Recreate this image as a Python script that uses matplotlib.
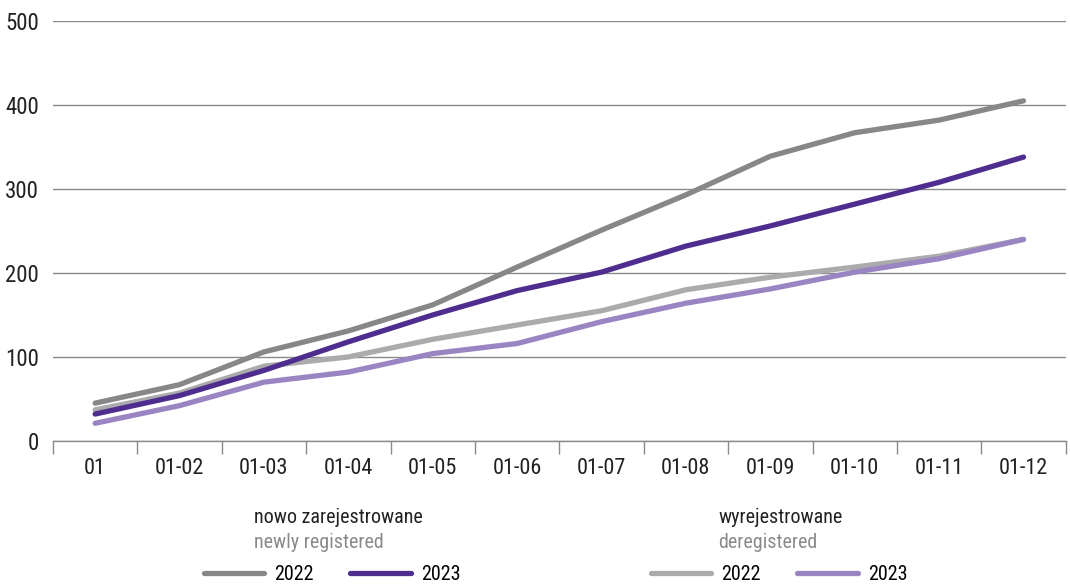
import matplotlib.pyplot as plt
from matplotlib.lines import Line2D

plt.rcParams['font.family'] = ['Roboto Condensed', 'DejaVu Sans Condensed',
                               'Liberation Sans Narrow', 'Roboto', 'DejaVu Sans']
plt.rcParams['font.stretch'] = 'condensed'

months = ["01", "01-02", "01-03", "01-04", "01-05", "01-06",
          "01-07", "01-08", "01-09", "01-10", "01-11", "01-12"]

# newly registered
new_2022 = [45, 67, 106, 131, 162, 207, 251, 293, 339, 367, 382, 405]
new_2023 = [32, 54, 84, 118, 150, 179, 201, 232, 256, 282, 308, 338]
# deregistered
dereg_2022 = [37, 57, 89, 100, 121, 138, 155, 180, 195, 207, 220, 240]
dereg_2023 = [21, 42, 70, 82, 104, 116, 142, 164, 181, 201, 217, 240]

c_new22 = "#87878a"
c_new23 = "#4f2d8f"
c_der22 = "#ababad"
c_der23 = "#9a85c2"

fig = plt.figure(figsize=(10.7, 5.84), dpi=100)
ax = fig.add_axes([0.0495, 0.245, 0.9465, 0.719])

x = range(len(months))
lw = 3.8
ax.plot(x, dereg_2022, color=c_der22, lw=lw, solid_capstyle="round", zorder=3)
ax.plot(x, dereg_2023, color=c_der23, lw=lw, solid_capstyle="round", zorder=4)
ax.plot(x, new_2022, color=c_new22, lw=lw, solid_capstyle="round", zorder=5)
ax.plot(x, new_2023, color=c_new23, lw=lw, solid_capstyle="round", zorder=6)

ax.set_xlim(-0.5, len(months) - 0.5)
ax.set_ylim(0, 500)
ax.set_yticks([0, 100, 200, 300, 400, 500])
ax.grid(axis="y", color="#8a8a8a", lw=1.0)
ax.set_axisbelow(True)
for s in ["top", "right", "left"]:
    ax.spines[s].set_visible(False)
ax.spines["bottom"].set_color("#8a8a8a")
ax.spines["bottom"].set_linewidth(1.0)

# labels centred on categories, tick marks between them
ax.set_xticks(list(x))
ax.set_xticklabels(months)
ax.tick_params(axis="x", length=0, labelsize=16, pad=12, colors="#222222")
ax.set_xticks([i - 0.5 for i in range(len(months) + 1)], minor=True)
ax.tick_params(axis="x", which="minor", length=9, width=1, color="#8a8a8a", direction="out")
ax.tick_params(axis="y", length=0, labelsize=16.5, pad=10, colors="#222222")

# legends
def group(x0, tx, title, subtitle, handles, labels):
    fig.text(tx, 0.097, title, fontsize=14.5, color="#222222", va="bottom")
    fig.text(tx, 0.055, subtitle, fontsize=14.5, color="#8a8a8a", va="bottom")
    leg = fig.legend(handles, labels, loc="center left", bbox_to_anchor=(x0, 0.017),
                     ncol=2, frameon=False, fontsize=14.5, handlelength=3.0,
                     handletextpad=0.5, columnspacing=1.8, borderaxespad=0, borderpad=0)
    return leg

h = lambda c: Line2D([], [], color=c, lw=lw, solid_capstyle="round")
group(0.1907, 0.2374, "nowo zarejestrowane", "newly registered",
      [h(c_new22), h(c_new23)], ["2022", "2023"])
group(0.6084, 0.671, "wyrejestrowane", "deregistered",
      [h(c_der22), h(c_der23)], ["2022", "2023"])

fig.savefig("out.png", dpi=100)
